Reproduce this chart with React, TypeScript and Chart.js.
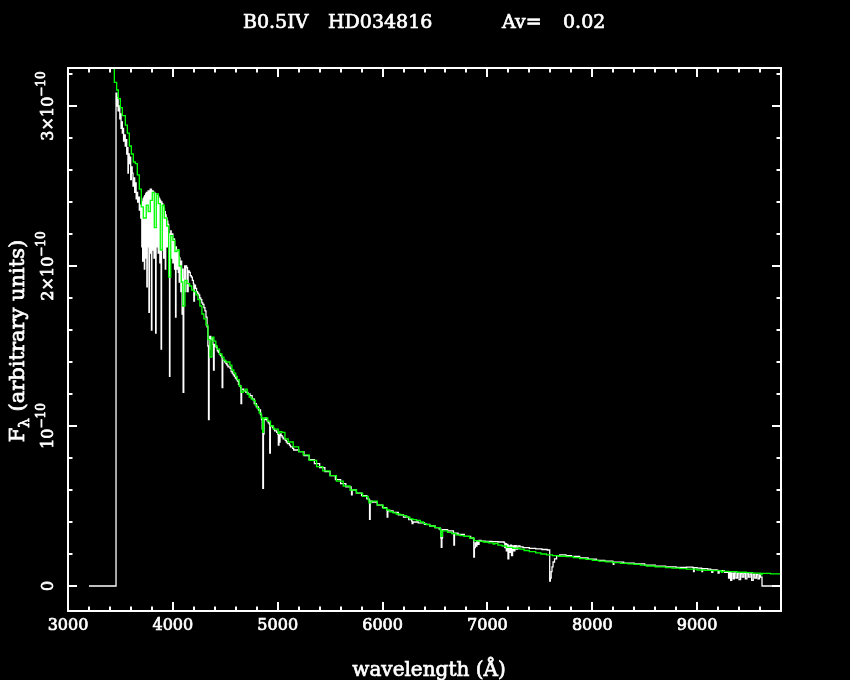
import React, { useEffect, useRef } from "react";
import { Chart, registerables } from "chart.js";

Chart.register(...registerables);

// ---------- DATA (flux in units of 1e-10 erg/s/cm2/A, arbitrary) ----------
// observed spectrum, split by region
const obsWaveUV = [
  3200, 3458, 3466, 3472, 3478, 3486, 3494, 3500, 3506, 3512,
  3518, 3524, 3530, 3538, 3546, 3552, 3560, 3566, 3572, 3576,
  3584, 3592, 3598, 3604, 3612, 3620, 3628, 3636, 3644, 3650,
  3656, 3664, 3672, 3680, 3688, 3694,
];
const obsFluxUV = [
  0, 3.08, 3.0, 3.05, 2.97, 3.0, 2.92, 2.95, 2.86, 2.9,
  2.83, 2.86, 2.78, 2.82, 2.75, 2.79, 2.7, 2.74, 2.58, 2.7,
  2.64, 2.68, 2.54, 2.62, 2.58, 2.5, 2.55, 2.46, 2.52, 2.42,
  2.46, 2.4, 2.43, 2.35, 2.38, 2.3,
];
const obsWaveBalmer = [
  3700, 3704, 3708, 3712, 3716, 3720, 3724, 3728, 3732, 3736,
  3740, 3744, 3748, 3752, 3756, 3760, 3764, 3768, 3772, 3776,
  3780, 3784, 3788, 3792, 3796, 3800, 3804, 3808, 3812, 3816,
  3820, 3824, 3828, 3832, 3836, 3840, 3844, 3848, 3852, 3856,
  3860, 3864, 3868, 3872, 3876, 3880, 3884, 3888, 3892, 3896,
  3900, 3904, 3908, 3912, 3916, 3920, 3924, 3928, 3932, 3936,
  3940, 3944, 3948, 3952, 3956, 3960, 3964, 3968, 3972,
  3980, 3984, 3988, 3992, 3996, 4000, 4004, 4008, 4012, 4016,
  4020, 4026, 4030, 4034, 4040, 4044, 4048, 4052, 4056, 4060,
  4064, 4068, 4072, 4076, 4080, 4084, 4088, 4092, 4098,
];
const obsFluxBalmer = [
  2.38, 2.12, 2.4, 2.03, 2.42, 2.15, 2.43, 1.98, 2.44, 2.1,
  2.45, 2.05, 2.46, 1.87, 2.46, 2.12, 2.47, 2.2, 1.71, 2.47,
  2.08, 2.48, 2.18, 2.48, 1.6, 2.47, 2.1, 2.47, 2.22, 2.46,
  2.05, 2.46, 2.2, 2.45, 1.58, 2.45, 2.12, 2.44, 2.25, 2.44,
  2.08, 2.43, 2.22, 2.42, 2.02, 2.41, 2.15, 1.48, 2.4, 2.1,
  2.39, 2.22, 2.37, 2.05, 2.36, 2.18, 2.34, 1.98, 2.32, 2.15,
  2.3, 2.12, 2.28, 2.16, 2.26, 2.0, 2.2, 1.31, 2.05,
  2.22, 2.05, 2.2, 2.1, 2.2, 2.02, 2.16, 2.08, 2.17, 1.98,
  2.12, 1.68, 2.12, 1.98, 2.1, 2.0, 2.1, 1.96, 2.06, 1.9,
  2.05, 1.95, 2.03, 1.84, 2.03, 1.92, 1.7, 1.98, 1.21,
];
const obsWaveBlue = [
  4104, 4112, 4118, 4124, 4132, 4140, 4146, 4156,
  4166, 4176, 4186, 4196, 4200, 4206, 4216, 4226, 4236, 4246,
  4256, 4266, 4276, 4286, 4296, 4306, 4316, 4326, 4334, 4340,
  4346, 4352, 4362, 4372, 4382, 4388, 4394, 4404, 4414, 4424,
  4434, 4444, 4454, 4464, 4470, 4476, 4486, 4496, 4506, 4516,
  4526, 4536, 4546, 4556, 4566, 4576, 4586, 4596, 4606, 4616,
  4626, 4636, 4646, 4650, 4656, 4666, 4676, 4686, 4696, 4706,
  4716, 4736, 4756, 4776, 4796, 4816, 4836, 4846, 4852, 4858,
  4864, 4870, 4880, 4890, 4900, 4910, 4920, 4924, 4930, 4940,
  4950, 4960, 4970, 4980, 4990, 5000, 5006, 5012, 5016, 5022,
  5032, 5042, 5052, 5062, 5072, 5082, 5092, 5102, 5112, 5122,
  5132, 5142, 5152,
];
const obsFluxBlue = [
  1.92, 2.0, 1.84, 2.0, 1.99, 1.84, 1.97, 1.96,
  1.94, 1.93, 1.91, 1.89, 1.78, 1.88, 1.86, 1.84, 1.83, 1.82,
  1.8, 1.79, 1.77, 1.76, 1.74, 1.72, 1.68, 1.62, 1.5, 1.04,
  1.48, 1.56, 1.54, 1.55, 1.51, 1.35, 1.51, 1.5, 1.49, 1.47,
  1.46, 1.45, 1.44, 1.43, 1.24, 1.41, 1.41, 1.4, 1.39, 1.38,
  1.37, 1.37, 1.36, 1.34, 1.33, 1.32, 1.31, 1.3, 1.29, 1.28,
  1.26, 1.25, 1.24, 1.14, 1.23, 1.23, 1.22, 1.22, 1.21, 1.21,
  1.2, 1.19, 1.17, 1.14, 1.12, 1.1, 1.07, 1.04, 0.98, 0.61,
  0.95, 1.04, 1.05, 1.04, 1.03, 1.02, 1.01, 0.83, 1.0, 1.0,
  0.99, 0.98, 0.97, 0.97, 0.96, 0.95, 0.88, 0.94, 0.9, 0.95,
  0.94, 0.93, 0.92, 0.92, 0.91, 0.9, 0.89, 0.89, 0.88, 0.87,
  0.87, 0.86, 0.85,
];
const obsWaveRed = [
  5200, 5250, 5300, 5350, 5400, 5450, 5500,
  5550, 5600, 5650, 5700, 5704, 5710, 5750, 5800, 5850, 5870,
  5876, 5882, 5900, 5950, 6000, 6040, 6044, 6050, 6100, 6150,
  6200, 6250, 6278, 6282, 6290, 6340, 6400, 6450, 6500, 6540,
  6556, 6560, 6566, 6572, 6620, 6676, 6680, 6686, 6720, 6780,
  6840, 6866, 6870, 6876, 6884, 6892, 6900, 6910, 6920, 6940,
  6980, 7040, 7100, 7160, 7166, 7172, 7180, 7188, 7196, 7204,
  7212, 7220, 7230, 7240, 7250, 7262, 7275, 7290, 7310, 7340,
  7400, 7460, 7520, 7570, 7594, 7600, 7608, 7616, 7626, 7640,
  7660, 7690, 7750, 7800, 7880, 7960, 8040, 8120, 8196, 8200,
];
const obsFluxRed = [
  0.84, 0.815, 0.79, 0.765, 0.74, 0.715, 0.69,
  0.665, 0.64, 0.62, 0.6, 0.57, 0.6, 0.58, 0.565, 0.545, 0.54,
  0.417, 0.53, 0.525, 0.505, 0.49, 0.475, 0.43, 0.47, 0.46, 0.445,
  0.43, 0.415, 0.405, 0.39, 0.4, 0.395, 0.385, 0.375, 0.365, 0.356,
  0.3, 0.242, 0.3, 0.352, 0.345, 0.33, 0.256, 0.33, 0.322, 0.31,
  0.3, 0.296, 0.18, 0.24, 0.27, 0.25, 0.28, 0.26, 0.285, 0.28,
  0.278, 0.277, 0.275, 0.27, 0.24, 0.265, 0.22, 0.26, 0.17, 0.25,
  0.21, 0.255, 0.19, 0.25, 0.22, 0.252, 0.23, 0.25, 0.245, 0.24,
  0.235, 0.232, 0.228, 0.225, 0.03, 0.05, 0.09, 0.12, 0.15, 0.17,
  0.19, 0.195, 0.19, 0.185, 0.176, 0.168, 0.16, 0.155, 0.15, 0.135,
];
const obsWaveIR = [
  8206, 8300, 8400, 8500, 8600, 8700, 8800, 8900, 8960, 8966,
  8972, 9000, 9040, 9046, 9052, 9100, 9130, 9140, 9150, 9190,
  9200, 9210, 9240, 9260, 9290, 9300, 9310, 9320, 9330, 9345,
  9355, 9370, 9385, 9400, 9415, 9430, 9445, 9460, 9475, 9490,
  9505, 9520, 9535, 9550, 9565, 9580, 9595, 9605, 9619, 9790,
];
const obsFluxIR = [
  0.149, 0.143, 0.138, 0.13, 0.124, 0.12, 0.117, 0.118, 0.115, 0.09,
  0.115, 0.112, 0.11, 0.09, 0.108, 0.105, 0.1, 0.085, 0.1, 0.098,
  0.08, 0.096, 0.094, 0.085, 0.09, 0.05, 0.085, 0.035, 0.08, 0.045,
  0.082, 0.05, 0.08, 0.04, 0.078, 0.055, 0.08, 0.045, 0.077, 0.055,
  0.075, 0.035, 0.074, 0.05, 0.072, 0.045, 0.07, 0.055, 0.0, 0.0,
];

// model (green) spectrum
const modelWave = [
  3400, 3422, 3442, 3464, 3480, 3499, 3518, 3547, 3566, 3585,
  3604, 3623, 3642, 3661, 3680, 3699, 3718, 3746, 3765, 3785,
  3804, 3823, 3842, 3861, 3880, 3899, 3918, 3941, 3960, 3980,
  4000, 4020, 4040, 4060, 4080, 4095, 4115, 4135, 4160, 4180,
  4200, 4220, 4239, 4258, 4277, 4296, 4316, 4335, 4354, 4373,
  4392, 4410, 4423, 4445, 4468, 4487, 4506, 4544, 4563, 4582,
  4600, 4614, 4633, 4652, 4671, 4690, 4709, 4728, 4747, 4766,
  4785, 4804, 4824, 4843, 4856, 4866, 4885, 4905, 4931, 4960,
  5005, 5020, 5040, 5069, 5100, 5148, 5200, 5243, 5300, 5371,
  5430, 5498, 5560, 5625, 5690, 5752, 5810, 5863, 5870, 5890,
  5950, 6006, 6040, 6070, 6100, 6130, 6165, 6197, 6230, 6260,
  6290, 6324, 6360, 6390, 6420, 6451, 6500, 6550, 6556, 6570,
  6620, 6660, 6700, 6740, 6780, 6830, 6873, 6910, 6960, 7010,
  7055, 7070, 7100, 7140, 7182, 7240, 7309, 7350, 7400, 7460,
  7510, 7563, 7620, 7680, 7750, 7820, 7880, 7940, 8000, 8060,
  8130, 8198, 8270, 8340, 8400, 8460, 8516, 8600, 8700, 8760,
  8833, 8900, 9000, 9075, 9150, 9225, 9232, 9240, 9300, 9380,
  9470, 9530, 9600, 9610, 9620, 9700, 9800,
];
const modelFlux = [
  3.4, 3.235, 3.148, 3.1, 3.046, 2.99, 2.94, 2.88, 2.83, 2.75,
  2.7, 2.65, 2.64, 2.57, 2.48, 2.37, 2.3, 2.38, 2.34, 2.41,
  2.46, 2.24, 2.45, 2.39, 2.1, 2.38, 2.3, 2.25, 1.93, 2.19,
  2.16, 2.09, 2.1, 2.0, 1.9, 1.75, 1.91, 1.89, 1.875, 1.85,
  1.84, 1.82, 1.79, 1.75, 1.7, 1.67, 1.63, 1.54, 1.43, 1.555,
  1.53, 1.5, 1.48, 1.45, 1.43, 1.41, 1.4, 1.38, 1.35, 1.33,
  1.31, 1.29, 1.25, 1.21, 1.22, 1.23, 1.2, 1.18, 1.17, 1.16,
  1.13, 1.11, 1.08, 1.05, 0.96, 1.05, 1.05, 1.03, 1.0, 0.98,
  0.954, 0.965, 0.96, 0.92, 0.9, 0.87, 0.84, 0.82, 0.785, 0.746,
  0.72, 0.69, 0.655, 0.625, 0.6, 0.58, 0.56, 0.54, 0.52, 0.53,
  0.505, 0.486, 0.475, 0.464, 0.457, 0.45, 0.445, 0.44, 0.43, 0.42,
  0.415, 0.41, 0.4, 0.39, 0.383, 0.375, 0.365, 0.35, 0.31, 0.345,
  0.335, 0.328, 0.32, 0.315, 0.31, 0.3, 0.283, 0.28, 0.275, 0.27,
  0.262, 0.267, 0.255, 0.25, 0.242, 0.236, 0.23, 0.222, 0.215, 0.207,
  0.2, 0.194, 0.19, 0.186, 0.183, 0.177, 0.171, 0.166, 0.16, 0.156,
  0.151, 0.146, 0.142, 0.138, 0.135, 0.13, 0.125, 0.12, 0.115, 0.112,
  0.108, 0.105, 0.1, 0.098, 0.096, 0.093, 0.085, 0.092, 0.09, 0.086,
  0.083, 0.081, 0.079, 0.072, 0.079, 0.076, 0.073,
];

const xTickLabels = ["3000", "4000", "5000", "6000", "7000", "8000", "9000"];
const yTickValues = [0, 1, 2, 3];
const yTickBases = ["0", "10", "2×10", "3×10"];
const yTickExps = ["", "−10", "−10", "−10"];
const titleParts = ["B0.5IV", "HD034816", "Av=", "0.02"];
const xTitle = "wavelength (Å)";
const yTitleMain = "F";
const yTitleSub = "λ";
const yTitleRest = " (arbitrary units)";

const obsWave = [...obsWaveUV, ...obsWaveBalmer, ...obsWaveBlue, ...obsWaveRed, ...obsWaveIR];
const obsFlux = [...obsFluxUV, ...obsFluxBalmer, ...obsFluxBlue, ...obsFluxRed, ...obsFluxIR];

// ---------- LAYOUT ----------
const W = 850;
const H = 680;
const X_MIN = 3000;
const X_MAX = 9800;
const Y_MIN = -0.15625;
const Y_MAX = 3.2375;
const FONT = "'DejaVu Serif', 'Liberation Serif', serif";
const titleX = [243, 328, 502, 563];

const drawText = (ctx: CanvasRenderingContext2D, t: string, x: number, y: number) => {
  ctx.fillText(t, x, y);
  ctx.strokeText(t, x, y);
};

const framePlugin = {
  id: "pgframe",
  beforeDraw(chart: any) {
    const ctx = chart.ctx;
    ctx.save();
    ctx.fillStyle = "#000";
    ctx.fillRect(0, 0, chart.width, chart.height);
    ctx.restore();
  },
  afterDraw(chart: any) {
    const ctx: CanvasRenderingContext2D = chart.ctx;
    const a = chart.chartArea;
    const xs = chart.scales.x;
    const ys = chart.scales.y;
    ctx.save();
    ctx.strokeStyle = "#fff";
    ctx.fillStyle = "#fff";
    ctx.lineWidth = 2;
    ctx.strokeRect(a.left, a.top, a.right - a.left, a.bottom - a.top);

    const seg = (x1: number, y1: number, x2: number, y2: number) => {
      ctx.beginPath();
      ctx.moveTo(x1, y1);
      ctx.lineTo(x2, y2);
      ctx.stroke();
    };
    for (let v = X_MIN; v <= X_MAX; v += 200) {
      const px = Math.round(xs.getPixelForValue(v));
      const len = v % 1000 === 0 ? 9 : 4.5;
      seg(px, a.bottom, px, a.bottom - len);
      seg(px, a.top, px, a.top + len);
    }
    for (let k = 0; k <= 16; k++) {
      const v = k * 0.2;
      if (v > Y_MAX) break;
      const py = Math.round(ys.getPixelForValue(v));
      const len = k % 5 === 0 ? 9 : 4.5;
      seg(a.left, py, a.left + len, py);
      seg(a.right, py, a.right - len, py);
    }

    ctx.lineWidth = 0.7;

    // x tick labels
    ctx.font = `16px ${FONT}`;
    ctx.textAlign = "center";
    ctx.textBaseline = "middle";
    xTickLabels.forEach((t) => {
      const px = xs.getPixelForValue(Number(t));
      drawText(ctx, t, px, 626);
    });

    // y tick labels (rotated, with exponent)
    yTickValues.forEach((v, i) => {
      const py = ys.getPixelForValue(v);
      const base = yTickBases[i];
      const exp = yTickExps[i];
      ctx.save();
      ctx.translate(49, py);
      ctx.rotate(-Math.PI / 2);
      ctx.textAlign = "left";
      ctx.textBaseline = "middle";
      ctx.font = `16px ${FONT}`;
      const wb = ctx.measureText(base).width;
      ctx.font = `12px ${FONT}`;
      const we = exp ? ctx.measureText(exp).width : 0;
      const start = -(wb + we) / 2;
      ctx.font = `16px ${FONT}`;
      drawText(ctx, base, start, 0);
      if (exp) {
        ctx.font = `12px ${FONT}`;
        drawText(ctx, exp, start + wb, -7.5);
      }
      ctx.restore();
    });

    // title
    ctx.font = `19px ${FONT}`;
    ctx.textAlign = "left";
    ctx.textBaseline = "alphabetic";
    titleParts.forEach((t, i) => drawText(ctx, t, titleX[i], 28));

    // x title
    ctx.font = `20px ${FONT}`;
    ctx.textAlign = "center";
    drawText(ctx, xTitle, 429, 676);

    // y title (rotated)
    ctx.save();
    ctx.translate(19, 341);
    ctx.rotate(-Math.PI / 2);
    ctx.textBaseline = "middle";
    ctx.textAlign = "left";
    ctx.font = `21px ${FONT}`;
    const wF = ctx.measureText(yTitleMain).width;
    const wR = ctx.measureText(yTitleRest).width;
    ctx.font = `15px ${FONT}`;
    const wS = ctx.measureText(yTitleSub).width;
    let sx = -(wF + wS + wR) / 2;
    ctx.font = `21px ${FONT}`;
    drawText(ctx, yTitleMain, sx, 0);
    sx += wF;
    ctx.font = `15px ${FONT}`;
    drawText(ctx, yTitleSub, sx, 6);
    sx += wS;
    ctx.font = `21px ${FONT}`;
    drawText(ctx, yTitleRest, sx, 0);
    ctx.restore();

    ctx.restore();
  },
};

export default function App() {
  const ref = useRef<HTMLCanvasElement>(null);
  useEffect(() => {
    document.body.style.margin = "0";
    document.body.style.background = "#000";
    const canvas = ref.current;
    if (!canvas) return;
    const chart = new Chart(canvas, {
      type: "line",
      data: {
        datasets: [
          {
            label: "model",
            data: modelWave.map((x, i) => ({ x, y: modelFlux[i] })),
            borderColor: "#00ff00",
            borderWidth: 1.3,
            pointRadius: 0,
            stepped: "before",
            fill: false,
          },
          {
            label: "observed",
            data: obsWave.map((x, i) => ({ x, y: obsFlux[i] })),
            borderColor: "#ffffff",
            borderWidth: 1.3,
            pointRadius: 0,
            stepped: "before",
            fill: false,
          },
        ],
      },
      options: {
        responsive: false,
        animation: false,
        devicePixelRatio: 1,
        events: [],
        layout: { padding: { left: 68, top: 68, right: 69, bottom: 69 } },
        scales: {
          x: { type: "linear", min: X_MIN, max: X_MAX, display: false },
          y: { type: "linear", min: Y_MIN, max: Y_MAX, display: false },
        },
        plugins: {
          legend: { display: false },
          tooltip: { enabled: false },
          title: { display: false },
        },
      },
      plugins: [framePlugin],
    } as any);
    return () => chart.destroy();
  }, []);
  return (
    <canvas
      ref={ref}
      width={W}
      height={H}
      style={{ display: "block", width: W, height: H }}
    />
  );
}
